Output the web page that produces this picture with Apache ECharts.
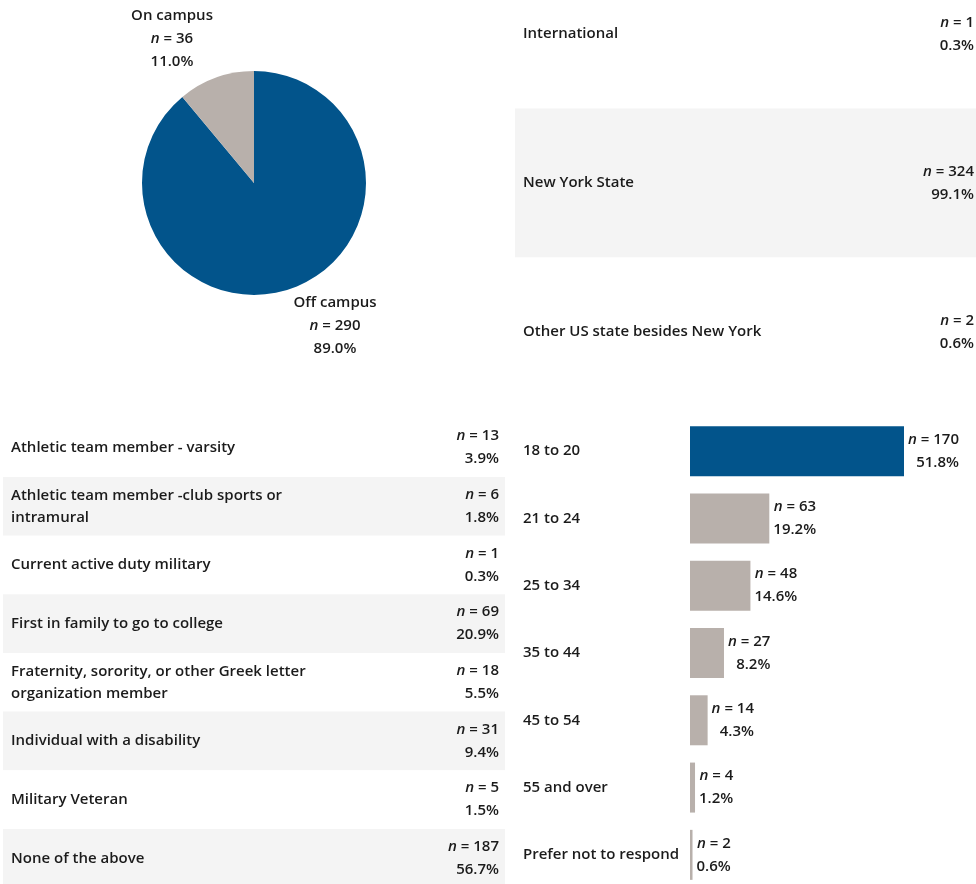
<!DOCTYPE html>
<html>
<head>
<meta charset="utf-8">
<script src="https://cdn.jsdelivr.net/npm/echarts@6/dist/echarts.min.js"></script>
<style>
  html, body { margin: 0; padding: 0; background: #fff; }
  #chart { width: 976px; height: 884px; }
</style>
</head>
<body>
<div id="chart"></div>
<script>
// 居住地
const pieNames = ["Off campus", "On campus"];
const pieCounts = [290, 36];
const piePcts = ["89.0%", "11.0%"];

// 州
const stateNames = ["International", "New York State", "Other US state besides New York"];
const stateCounts = [1, 324, 2];
const statePcts = ["0.3%", "99.1%", "0.6%"];

// 学生身份
const groupNames = [
  "Athletic team member - varsity",
  "Athletic team member -club sports or\nintramural",
  "Current active duty military",
  "First in family to go to college",
  "Fraternity, sorority, or other Greek letter\norganization member",
  "Individual with a disability",
  "Military Veteran",
  "None of the above",
];
const groupCounts = [13, 6, 1, 69, 18, 31, 5, 187];
const groupPcts = ["3.9%", "1.8%", "0.3%", "20.9%", "5.5%", "9.4%", "1.5%", "56.7%"];

// 年龄
const ageNames = ["18 to 20", "21 to 24", "25 to 34", "35 to 44", "45 to 54", "55 and over", "Prefer not to respond"];
const ageCounts = [170, 63, 48, 27, 14, 4, 2];
const agePcts = ["51.8%", "19.2%", "14.6%", "8.2%", "4.3%", "1.2%", "0.6%"];

const BLUE = "#02548b";
const GRAY = "#b8b0ab";
const TEXT = "#1b1b1b";
const FONT = "Open Sans";

function richStyles(align) {
  return {
    i: { fontStyle: "italic", fontFamily: FONT, fontWeight: 600, fontSize: 15, color: TEXT, align: align, lineHeight: 23 },
    t: { fontFamily: FONT, fontWeight: 600, fontSize: 15, color: TEXT, align: align, lineHeight: 23 },
  };
}
function nText(count, pct) {
  return "{i|n}{t| = " + count + "}\n{t|" + pct + "}";
}

let myChart = echarts.init(document.getElementById("chart"));

let labelStyle = { color: TEXT, fontFamily: FONT, fontWeight: 600, fontSize: 15 };

myChart.setOption({
  animation: false,
  grid: [
    // 右上表格
    { left: 515, top: -40.5, width: 461, height: 447, outerBoundsMode: "none", containLabel: false },
    // 左下表格
    { left: 3, top: 418.3, width: 502, height: 469.3, outerBoundsMode: "none", containLabel: false },
    // 右下柱状图
    { left: 690, top: 417.5, width: 214, height: 471, outerBoundsMode: "none", containLabel: false },
  ],
  xAxis: [
    { gridIndex: 0, type: "value", show: false },
    { gridIndex: 1, type: "value", show: false },
    { gridIndex: 2, type: "value", show: false, min: 0, max: "dataMax" },
  ],
  yAxis: [
    {
      gridIndex: 0,
      type: "category",
      inverse: true,
      data: stateNames,
      axisLine: { show: false },
      axisTick: { show: false },
      axisLabel: Object.assign({ inside: true, margin: 8, interval: 0 }, labelStyle),
      splitArea: { show: true, interval: 0, areaStyle: { color: ["#ffffff", "#f4f4f4"] } },
    },
    {
      gridIndex: 0,
      type: "category",
      position: "right",
      inverse: true,
      data: stateNames,
      axisLine: { show: false },
      axisTick: { show: false },
      axisLabel: {
        inside: true,
        margin: 2,
        interval: 0,
        align: "right",
        formatter: (v, i) => nText(stateCounts[i], statePcts[i]),
        rich: richStyles("right"),
      },
    },
    {
      gridIndex: 1,
      type: "category",
      inverse: true,
      data: groupNames,
      axisLine: { show: false },
      axisTick: { show: false },
      axisLabel: Object.assign({ inside: true, margin: 8, interval: 0, lineHeight: 22 }, labelStyle),
      splitArea: { show: true, interval: 0, areaStyle: { color: ["#ffffff", "#f4f4f4"] } },
    },
    {
      gridIndex: 1,
      type: "category",
      position: "right",
      inverse: true,
      data: groupNames,
      axisLine: { show: false },
      axisTick: { show: false },
      axisLabel: {
        inside: true,
        margin: 6,
        interval: 0,
        align: "right",
        formatter: (v, i) => nText(groupCounts[i], groupPcts[i]),
        rich: richStyles("right"),
      },
    },
    {
      gridIndex: 2,
      type: "category",
      inverse: true,
      data: ageNames,
      axisLine: { show: false },
      axisTick: { show: false },
      axisLabel: Object.assign({ margin: 167, align: "left", interval: 0 }, labelStyle),
    },
  ],
  series: [
    {
      type: "pie",
      center: [254, 183],
      radius: 112,
      startAngle: 90,
      clockwise: true,
      silent: true,
      data: pieNames.map((name, i) => ({
        name: name,
        value: pieCounts[i],
        itemStyle: { color: i === 0 ? BLUE : GRAY },
      })),
      label: {
        show: true,
        position: "outside",
        formatter: (p) => "{t|" + p.name + "}\n" + nText(pieCounts[p.dataIndex], piePcts[p.dataIndex]),
        rich: richStyles("center"),
      },
      labelLine: { show: false },
      labelLayout: (p) => {
        if (p.dataIndex === 0) {
          return { x: 335, y: 326, align: "center", verticalAlign: "middle" };
        }
        return { x: 172, y: 39, align: "center", verticalAlign: "middle" };
      },
    },
    {
      type: "bar",
      xAxisIndex: 2,
      yAxisIndex: 4,
      barWidth: 50,
      silent: true,
      data: ageCounts.map((v, i) => ({
        value: v,
        itemStyle: { color: i === 0 ? BLUE : GRAY },
      })),
      label: {
        show: true,
        position: "right",
        distance: 4,
        formatter: (p) => nText(ageCounts[p.dataIndex], agePcts[p.dataIndex]),
        rich: richStyles("right"),
      },
    },
  ],
});
</script>
</body>
</html>
